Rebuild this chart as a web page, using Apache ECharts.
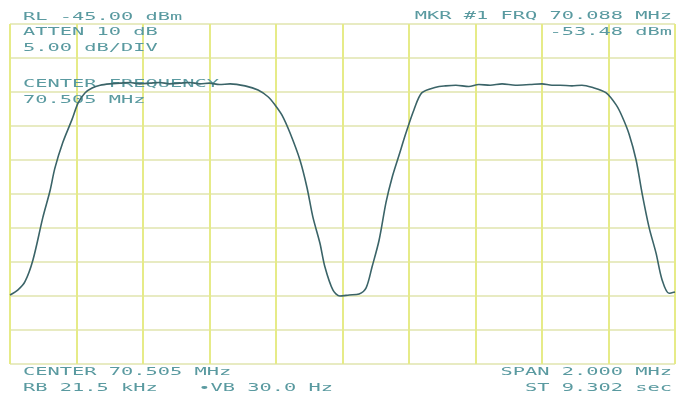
<!DOCTYPE html>
<html>
<head>
<meta charset="utf-8">
<script src="https://cdn.jsdelivr.net/npm/echarts@6/dist/echarts.min.js"></script>
<style>
html,body{margin:0;padding:0;background:#fff;}
#c{width:679px;height:401px;}
</style>
</head>
<body>
<div id="c"></div>
<script>
// Frequency offset from center (kHz), center 70.505 MHz, span 2.000 MHz
const freqOffsetKHz = [-1000,-976,-955,-931,-901,-880,-865,-841,-814,-795,-774,-753,-729,-700,-669,-640,-610,-579,-550,-520,-489,-460,-429,-400,-370,-338,-293,-254,-224,-203,-182,-158,-128,-107,-89,-68,-53,-29,-8,20,50,71,89,110,131,149,170,191,215,239,281,310,341,380,410,444,480,520,564,600,630,654,690,720,750,792,823,841,862,883,901,922,943,961,982,1000];
const levelDBm = [-84.85,-84.1,-82.9,-79.7,-73.4,-69.6,-66.2,-62.4,-59.1,-56.6,-55.1,-54.4,-54.0,-53.8,-53.7,-53.6,-53.8,-53.7,-53.6,-53.8,-53.7,-53.6,-53.8,-53.7,-53.9,-53.8,-54.1,-54.7,-55.7,-56.9,-58.4,-61.0,-65.0,-69.0,-73.4,-77.2,-80.7,-84.1,-85.0,-84.85,-84.7,-83.8,-80.7,-76.8,-71.2,-67.6,-64.3,-61.0,-57.6,-55.1,-54.3,-54.1,-54.0,-54.2,-53.9,-54.0,-53.8,-54.0,-53.9,-53.8,-54.0,-54.0,-54.1,-54.0,-54.3,-55.1,-56.9,-58.6,-61.2,-65.0,-69.9,-74.9,-78.7,-82.6,-84.6,-84.4];

const topLeftText = ["RL -45.00 dBm", "ATTEN 10 dB", "5.00 dB/DIV"];
const centerFreqText = ["CENTER FREQUENCY", "70.505 MHz"];
const markerText = ["MKR #1 FRQ 70.088 MHz", "-53.48 dBm"];
const bottomLeftText = ["CENTER 70.505 MHz", "RB 21.5 kHz"];
const vbText = "\u2022VB 30.0 Hz";
const bottomRightText = ["SPAN 2.000 MHz", "ST 9.302 sec"];

const TXT = '#5a9aa0';
const FONT = '11px "DejaVu Sans Mono"';
const SX = 1.85;
function t(text, x, y, align){
  return {type:'text', x:x, y:y, scaleX:SX, z:1,
    style:{text:text, font:FONT, fill:TXT, textAlign:align||'left', textVerticalAlign:'top'}};
}

const chart = echarts.init(document.getElementById('c'));
chart.setOption({
  animation:false,
  backgroundColor:'#ffffff',
  grid:{left:10, right:4, top:24, bottom:37},
  xAxis:{type:'value', min:-1000, max:1000, interval:200,
    axisLine:{show:false}, axisTick:{show:false}, axisLabel:{show:false},
    splitLine:{show:true, lineStyle:{color:'#e6eb88', width:2}}},
  yAxis:{type:'value', min:-95, max:-45, interval:5,
    axisLine:{show:false}, axisTick:{show:false}, axisLabel:{show:false},
    splitLine:{show:true, lineStyle:{color:'#e0e5ae', width:1.5}}},
  series:[{
    type:'line', z:5,
    data: freqOffsetKHz.map((f,i)=>[f, levelDBm[i]]),
    showSymbol:false, smooth:0.3,
    lineStyle:{color:'#3b6468', width:1.6}
  }],
  graphic:{elements:[
    t(topLeftText[0], 23, 12),
    t(topLeftText[1], 23, 27),
    t(topLeftText[2], 23, 43),
    t(centerFreqText[0], 23, 79),
    t(centerFreqText[1], 23, 95),
    t(markerText[0], 672, 11, 'right'),
    t(markerText[1], 672, 27, 'right'),
    t(bottomLeftText[0], 23, 367),
    t(bottomLeftText[1], 23, 383),
    t(vbText, 333, 383, 'right'),
    t(bottomRightText[0], 672, 367, 'right'),
    t(bottomRightText[1], 672, 383, 'right')
  ]}
});
</script>
</body>
</html>
